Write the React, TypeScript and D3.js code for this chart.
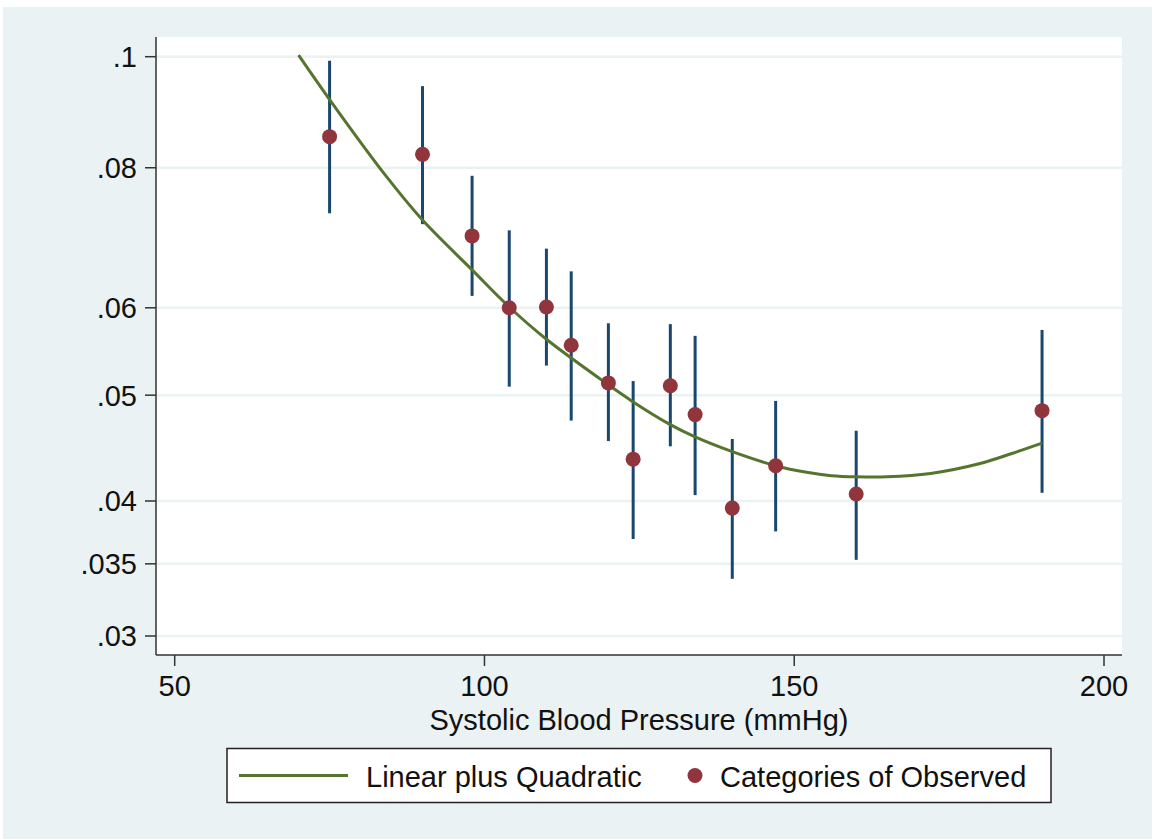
import * as d3 from 'd3';

const W = 1152;
const H = 839;

// observed categories: systolic BP (mmHg), proportion with 95% CI
const bpCats = [75, 90, 98, 104, 110, 114, 120, 124, 130, 134, 140, 147, 160, 190];
const observed = [0.0852, 0.0822, 0.0696, 0.06, 0.0601, 0.0555, 0.0513, 0.0437, 0.051, 0.048, 0.0394, 0.0431, 0.0406, 0.0484];
const ciLow = [0.0729, 0.0713, 0.0615, 0.0509, 0.0532, 0.0474, 0.0454, 0.0369, 0.0449, 0.0405, 0.0339, 0.0375, 0.0353, 0.0407];
const ciHigh = [0.0992, 0.0943, 0.0787, 0.0704, 0.0678, 0.0647, 0.0581, 0.0515, 0.058, 0.0566, 0.0456, 0.0494, 0.0464, 0.0573];

// fitted linear + quadratic curve
const fitBp = [70, 75, 84, 90, 98, 104, 110, 120, 124, 130, 134, 140, 147, 152, 156, 160, 165, 172, 180, 185, 190];
const fitP = [0.1003, 0.0918, 0.0788, 0.0719, 0.0649, 0.0601, 0.0562, 0.0511, 0.0493, 0.047, 0.0458, 0.0444, 0.0431, 0.0425, 0.0422, 0.0421, 0.0421, 0.0424, 0.0433, 0.0442, 0.0452];

const xTicks = [50, 100, 150, 200];
const yTicks = [0.03, 0.035, 0.04, 0.05, 0.06, 0.08, 0.1];
const yTickLabels = ['.03', '.035', '.04', '.05', '.06', '.08', '.1'];

const logit = (p: number) => Math.log(p / (1 - p));

const plot = { left: 156, right: 1122, top: 37, bottom: 655 };
const font = "'Liberation Sans', Arial, sans-serif";
const fs = 29;

export default function App() {
  const x = d3.scaleLinear().domain([50, 200]).range([174.7, 1104]);
  const yl = d3.scaleLinear().domain([logit(0.03), logit(0.1)]).range([636, 56.7]);
  const y = (p: number) => yl(logit(p));

  const line = d3
    .line<number>()
    .x((d, i) => x(fitBp[i]))
    .y((d) => y(d))
    .curve(d3.curveCatmullRom);

  return (
    <svg width={W} height={H} style={{ position: 'absolute', left: 0, top: 0 }} fontFamily={font}>
      <rect x={0} y={0} width={W} height={H} fill="#ffffff" />
      <rect x={3} y={7} width={W - 3} height={H - 7} fill="#eaf2f3" />
      <rect x={plot.left} y={plot.top} width={plot.right - plot.left} height={plot.bottom - plot.top} fill="#ffffff" />

      {/* gridlines */}
      {yTicks.map((t) => (
        <line key={'g' + t} x1={plot.left} x2={plot.right} y1={y(t)} y2={y(t)} stroke="#eaf2f3" strokeWidth={2.5} />
      ))}

      {/* y axis */}
      <line x1={plot.left} x2={plot.left} y1={plot.top} y2={plot.bottom} stroke="#333" strokeWidth={1.5} />
      {yTicks.map((t, i) => (
        <g key={'y' + t}>
          <line x1={plot.left - 11} x2={plot.left} y1={y(t)} y2={y(t)} stroke="#333" strokeWidth={1.5} />
          <text x={137} y={y(t)} dy="0.36em" textAnchor="end" fontSize={fs} fill="#111">
            {yTickLabels[i]}
          </text>
        </g>
      ))}

      {/* x axis */}
      <line x1={plot.left} x2={plot.right} y1={plot.bottom} y2={plot.bottom} stroke="#333" strokeWidth={1.5} />
      {xTicks.map((t) => (
        <g key={'x' + t}>
          <line x1={x(t)} x2={x(t)} y1={plot.bottom} y2={plot.bottom + 11} stroke="#333" strokeWidth={1.5} />
          <text x={x(t)} y={696} textAnchor="middle" fontSize={fs} fill="#111">
            {t}
          </text>
        </g>
      ))}
      <text x={(plot.left + plot.right) / 2} y={730} textAnchor="middle" fontSize={fs} fill="#111">
        Systolic Blood Pressure (mmHg)
      </text>

      {/* confidence intervals */}
      {bpCats.map((b, i) => (
        <line key={'ci' + b} x1={x(b)} x2={x(b)} y1={y(ciLow[i])} y2={y(ciHigh[i])} stroke="#1a476f" strokeWidth={3} />
      ))}

      {/* fitted curve */}
      <path d={line(fitP) ?? ''} fill="none" stroke="#55752f" strokeWidth={3} />

      {/* observed points */}
      {bpCats.map((b, i) => (
        <circle key={'pt' + b} cx={x(b)} cy={y(observed[i])} r={7.5} fill="#90353b" />
      ))}

      {/* legend */}
      <rect x={227} y={748.5} width={824} height={54} fill="#ffffff" stroke="#222" strokeWidth={1.5} />
      <line x1={239} x2={348} y1={775.5} y2={775.5} stroke="#55752f" strokeWidth={3} />
      <text x={366} y={786.5} fontSize={fs} fill="#111">
        Linear plus Quadratic
      </text>
      <circle cx={695} cy={775.5} r={7.5} fill="#90353b" />
      <text x={720} y={786.5} fontSize={fs} fill="#111">
        Categories of Observed
      </text>
    </svg>
  );
}
